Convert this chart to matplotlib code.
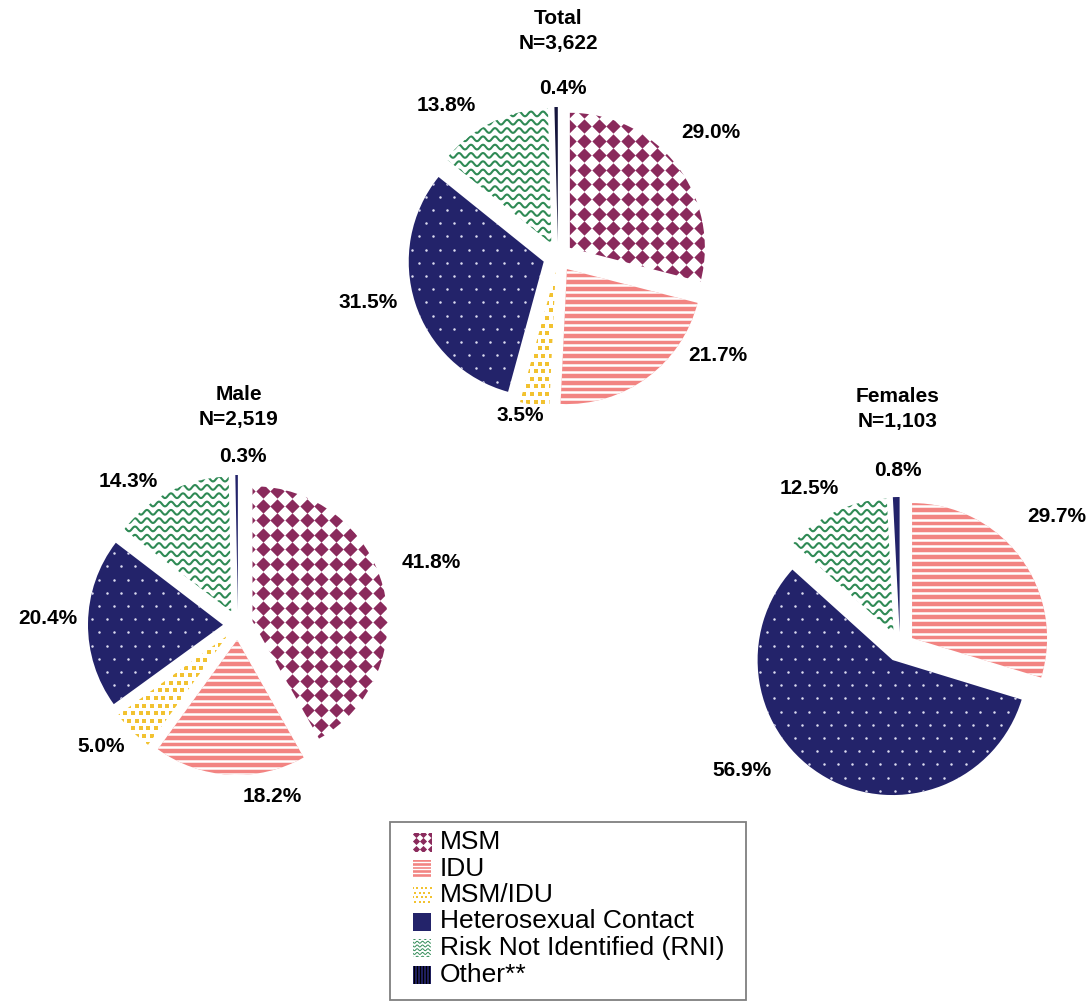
import numpy as np
import matplotlib
matplotlib.use("Agg")
import matplotlib.pyplot as plt
from matplotlib.patches import Rectangle
from matplotlib.collections import LineCollection

# ---------------- data ----------------
categories = ["MSM", "IDU", "MSM/IDU", "Heterosexual Contact",
              "Risk Not Identified (RNI)", "Other**"]
total_pct = [29.0, 21.7, 3.5, 31.5, 13.8, 0.4]
male_pct = [41.8, 18.2, 5.0, 20.4, 14.3, 0.3]
female_pct = [0.0, 29.7, 0.0, 56.9, 12.5, 0.8]
chart_titles = ["Total\nN=3,622", "Male\nN=2,519", "Females\nN=1,103"]

# ---------------- style ----------------
W, H = 1091, 1002
MAROON = "#8a2a5c"
SALMON = "#f28482"
YELLOW = "#f2c230"
NAVY = "#23236a"
GREEN = "#2f8a55"
OTHER = "#15153c"

base_colors = ["white", SALMON, "white", NAVY, "white", OTHER]
pattern_kind = ["diamond", "hlines", "squares", "dots", "waves", None]

plt.rcParams["font.family"] = ["Liberation Sans", "DejaVu Sans"]

fig = plt.figure(figsize=(W / 100, H / 100), dpi=100)
ax = fig.add_axes([0, 0, 1, 1])


def py(y):
    """convert a top-down pixel row into the axes' y coordinate"""
    return H - y


def add_pattern(kind, clip, bbox, sc=1.0, z=3):
    x0, y0, x1, y1 = bbox
    art = None
    if kind == "diamond":
        s = 14.6 * sc
        xs = np.arange(np.floor(x0 / s) * s, x1 + s, s)
        ys = np.arange(np.floor(y0 / s) * s, y1 + s, s)
        X, Y = np.meshgrid(xs, ys)
        art = ax.scatter(X.ravel(), Y.ravel(), marker="D", s=(7.3 * sc) ** 2,
                         color=MAROON, linewidths=0, zorder=z)
    elif kind == "hlines":
        p = 6.7 * sc
        ys = np.arange(np.floor(y0 / p) * p, y1 + p, p)
        segs = [[(x0, y), (x1, y)] for y in ys]
        art = LineCollection(segs, colors="white", linewidths=1.8 * sc, zorder=z)
        ax.add_collection(art)
    elif kind == "squares":
        p = 7.6 * sc
        ys = np.arange(np.floor(y0 / p) * p, y1 + p, p)
        pts = []
        for j, y in enumerate(ys):
            xs = np.arange(np.floor(x0 / p) * p, x1 + p, p) + (j % 2) * p / 2
            pts += [(x, y) for x in xs]
        pts = np.array(pts)
        art = ax.scatter(pts[:, 0], pts[:, 1], marker="s", s=(3.1 * sc) ** 2,
                         color=YELLOW, linewidths=0, zorder=z)
    elif kind == "dots":
        px_, py_ = 14.2 * sc, 13.2 * sc
        ys = np.arange(np.floor(y0 / py_) * py_, y1 + py_, py_)
        pts = []
        for j, y in enumerate(ys):
            xs = np.arange(np.floor(x0 / px_) * px_, x1 + px_, px_) + (j % 2) * px_ / 2
            pts += [(x, y) for x in xs]
        pts = np.array(pts)
        art = ax.scatter(pts[:, 0], pts[:, 1], marker="o", s=(1.8 * sc) ** 2,
                         color="#dcdcf0", linewidths=0, zorder=z)
    elif kind == "waves":
        p = 8.3 * sc
        lam = 12.0 * sc
        amp = 2.4 * sc
        xs = np.linspace(x0, x1, int((x1 - x0) / 1.0) + 2)
        ys = np.arange(np.floor(y0 / p) * p, y1 + p, p)
        segs = [np.column_stack([xs, y + amp * np.sin(2 * np.pi * xs / lam)]) for y in ys]
        art = LineCollection(segs, colors=GREEN, linewidths=1.5 * sc, zorder=z)
        ax.add_collection(art)
    elif kind == "vlines":
        p = 3.0 * sc
        xs = np.arange(np.floor(x0 / p) * p, x1 + p, p)
        segs = [[(x, y0), (x, y1)] for x in xs]
        art = LineCollection(segs, colors="black", linewidths=0.9 * sc, zorder=z)
        ax.add_collection(art)
    if art is not None:
        art.set_clip_path(clip)


# layout of the three pies (pixel centres, radius, explode distance)
pies = [
    dict(values=total_pct, title=chart_titles[0], center=(558, 257), title_xy=(558, 31),
         label_off=[(153, -125), (160, 98), (-38, 158), (-190, 45), (-112, -152), (5, -169)],
         other=OTHER),
    dict(values=male_pct, title=chart_titles[1], center=(238, 625), title_xy=(239, 407),
         label_off=[(193, -62), (34, 172), (-137, 122), (-190, -6), (-110, -144), (5, -169)],
         other=NAVY),
    dict(values=female_pct, title=chart_titles[2], center=(900, 647), title_xy=(898, 409),
         label_off=[None, (157, -131), None, (-158, 123), (-91, -159), (-2, -177)],
         other=NAVY),
]
R = 135
EXPL = 15

for spec in pies:
    cx, cy = spec["center"]
    vals = spec["values"]
    cols = list(base_colors)
    cols[5] = spec["other"]
    wedges, _ = ax.pie(vals, startangle=90, counterclock=False,
                       explode=[EXPL] * len(vals), radius=R,
                       center=(cx, py(cy)), colors=cols,
                       wedgeprops=dict(linewidth=0))
    bbox = (cx - R - 30, py(cy) - R - 30, cx + R + 30, py(cy) + R + 30)
    for w, kind, v in zip(wedges, pattern_kind, vals):
        if v > 0 and kind is not None:
            add_pattern(kind, w, bbox)
    for v, off in zip(vals, spec["label_off"]):
        if v > 0 and off is not None:
            ax.text(cx + off[0], py(cy + off[1]), f"{v:.1f}%", ha="center", va="center",
                    fontsize=15, fontweight="bold", color="black", zorder=5)
    tx, ty = spec["title_xy"]
    ax.text(tx, py(ty), spec["title"], ha="center", va="center", fontsize=15,
            fontweight="bold", linespacing=1.35, zorder=5)

# ---------------- legend (drawn by hand) ----------------
lx0, ly0, lx1, ly1 = 390, 822, 746, 1000
ax.add_patch(Rectangle((lx0, py(ly1)), lx1 - lx0, ly1 - ly0, facecolor="white",
                       edgecolor="#7f7f7f", linewidth=1.3, zorder=4, clip_on=False))
row_y = [842, 868.5, 895, 921.5, 948, 974.5]
legend_patterns = ["squares_m", "hlines", "squares", None, "waves", "vlines"]
legend_faces = ["white", SALMON, "white", NAVY, "white", NAVY]
legend_scale = [0.5, 0.55, 0.6, 1.0, 0.45, 1.0]
hs = 18
for name, y, kind, face, sc in zip(categories, row_y, legend_patterns,
                                     legend_faces, legend_scale):
    sq = Rectangle((413, py(y) - hs / 2), hs, hs, facecolor=face, edgecolor="none",
                   zorder=5)
    ax.add_patch(sq)
    bb = (410, py(y) - 12, 435, py(y) + 12)
    if kind == "squares_m":
        add_pattern("diamond", sq, bb, sc, z=6)
    elif kind is not None:
        add_pattern(kind, sq, bb, sc, z=6)
    ax.text(440, py(y), name, ha="left", va="center", fontsize=19, zorder=7)

ax.set_xlim(0, W)
ax.set_ylim(0, H)
ax.set_aspect("auto")
ax.axis("off")
fig.savefig("out.png", dpi=100)
